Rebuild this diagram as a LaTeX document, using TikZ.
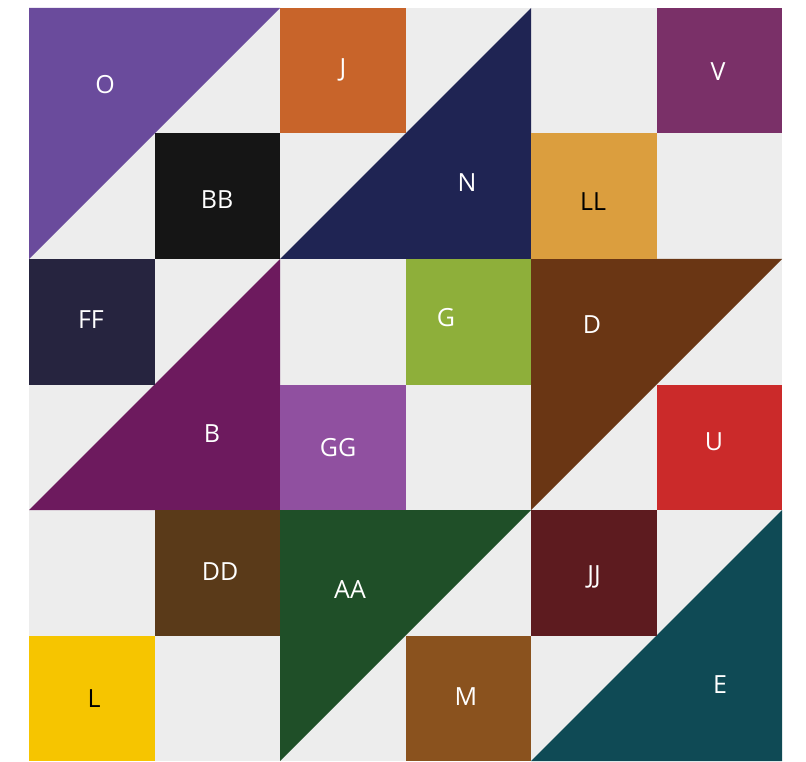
\documentclass[tikz,border=0pt]{standalone}
\usepackage{fontspec}
\setmainfont{Open Sans}
\definecolor{bgc}{HTML}{EDEDED}
\definecolor{cO}{HTML}{6A4B9C}
\definecolor{cBB}{HTML}{151515}
\definecolor{cJ}{HTML}{C8642A}
\definecolor{cN}{HTML}{1F2453}
\definecolor{cV}{HTML}{7A3068}
\definecolor{cLL}{HTML}{DB9E3E}
\definecolor{cFF}{HTML}{26243F}
\definecolor{cB}{HTML}{6D1A5E}
\definecolor{cG}{HTML}{8EAF3A}
\definecolor{cGG}{HTML}{9050A0}
\definecolor{cD}{HTML}{6A3614}
\definecolor{cU}{HTML}{CB2A2A}
\definecolor{cDD}{HTML}{5A3A19}
\definecolor{cAA}{HTML}{1F4F28}
\definecolor{cJJ}{HTML}{5D1B1F}
\definecolor{cL}{HTML}{F6C500}
\definecolor{cM}{HTML}{8A521E}
\definecolor{cE}{HTML}{0F4A55}
\tikzset{
  lab/.style={font=\fontsize{25}{25}\selectfont, text=white, inner sep=0pt},
  labdark/.style={lab, text=black}
}
\begin{document}
\begin{tikzpicture}[x=1pt,y=-1pt]
\useasboundingbox (0,0) rectangle (806,762);
\fill[white] (0,0) rectangle (806,762);
\begin{scope}[shift={(29,8)}, x=125.5pt, y=-125.5pt]
  \fill[bgc] (0,0) rectangle (6,6);
  % triangles
  \fill[cO] (0,0) -- (2,0) -- (0,2) -- cycle;
  \fill[cN] (4,0) -- (4,2) -- (2,2) -- cycle;
  \fill[cB] (2,2) -- (2,4) -- (0,4) -- cycle;
  \fill[cD] (4,2) -- (6,2) -- (4,4) -- cycle;
  \fill[cAA] (2,4) -- (4,4) -- (2,6) -- cycle;
  \fill[cE] (6,4) -- (6,6) -- (4,6) -- cycle;
  % squares
  \fill[cBB] (1,1) rectangle (2,2);
  \fill[cJ] (2,0) rectangle (3,1);
  \fill[cV] (5,0) rectangle (6,1);
  \fill[cLL] (4,1) rectangle (5,2);
  \fill[cFF] (0,2) rectangle (1,3);
  \fill[cG] (3,2) rectangle (4,3);
  \fill[cGG] (2,3) rectangle (3,4);
  \fill[cU] (5,3) rectangle (6,4);
  \fill[cDD] (1,4) rectangle (2,5);
  \fill[cJJ] (4,4) rectangle (5,5);
  \fill[cL] (0,5) rectangle (1,6);
  \fill[cM] (3,5) rectangle (4,6);
\end{scope}
\node[lab] (lO) at (105,85) {O};
\node[lab] (lBB) at (217,200) {BB};
\node[lab] (lJ) at (343,70) {J};
\node[lab] (lN) at (467,183) {N};
\node[lab] (lV) at (718,72) {V};
\node[labdark] (lLL) at (593,202) {LL};
\node[lab] (lFF) at (91,320) {FF};
\node[lab] (lG) at (446,318) {G};
\node[lab] (lD) at (592,325) {D};
\node[lab] (lB) at (212,434) {B};
\node[lab] (lGG) at (338,448) {GG};
\node[lab] (lU) at (714,442) {U};
\node[lab] (lDD) at (220,572) {DD};
\node[lab] (lAA) at (350,590) {AA};
\node[lab] (lJJ) at (594,577) {JJ};
\node[labdark] (lL) at (94,699) {L};
\node[lab] (lM) at (466,697) {M};
\node[lab] (lE) at (720,685) {E};
\end{tikzpicture}
\end{document}
